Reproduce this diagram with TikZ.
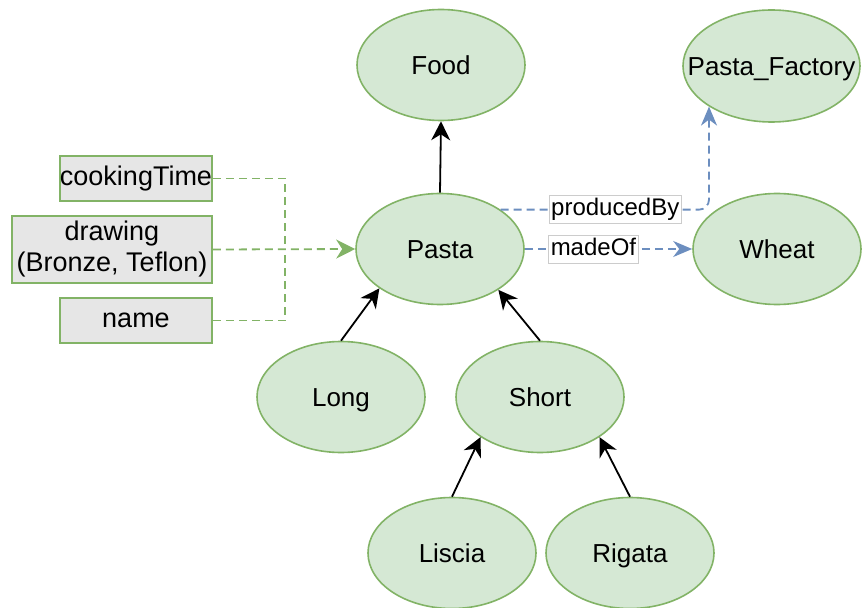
\documentclass[tikz,border=0pt]{standalone}
\usepackage{fontspec}
\setmainfont{Liberation Sans}
\usetikzlibrary{shapes.geometric,arrows.meta}
\definecolor{gfill}{HTML}{D5E8D4}
\definecolor{gline}{HTML}{82B366}
\definecolor{bline}{HTML}{6C8EBF}
\definecolor{boxfill}{HTML}{E6E6E6}
\tikzset{
  cls/.style={ellipse, draw=gline, fill=gfill, line width=1.6bp, minimum width=168bp, minimum height=111bp, inner sep=0pt, text height=18.7bp, text depth=0pt, font=\fontsize{26bp}{30bp}\selectfont},
  attr/.style={rectangle, draw=gline, fill=boxfill, line width=1.6bp, inner sep=0pt, font=\fontsize{27bp}{31bp}\selectfont, align=center},
  isa/.style={line width=1.8bp, -{Stealth[length=19bp, width=19bp, inset=6bp]}},
  gdash/.style={draw=gline, line width=1.8bp, dash pattern=on 8bp off 5bp},
  bdash/.style={draw=bline, line width=1.8bp, dash pattern=on 8bp off 5bp},
  lbl/.style={fill=white, draw=black!20, line width=0.6bp, sharp corners, inner xsep=2bp, inner ysep=3bp, text height=17.3bp, text depth=5bp, font=\fontsize{24bp}{28bp}\selectfont},
}
\begin{document}
\begin{tikzpicture}[x=1bp, y=-1bp]
\useasboundingbox (0,0) rectangle (862,608);
\node[cls] (food) at (441,65) {\makebox[0pt]{Food}};
\node[cls] (pasta) at (440,249) {\makebox[0pt]{Pasta}};
\node[cls, minimum width=177bp, minimum height=112bp] (pf) at (771.5,66) {\makebox[0pt]{Pasta\_Factory}};
\node[cls] (wheat) at (777,249) {\makebox[0pt]{Wheat}};
\node[cls] (long) at (341,397) {\makebox[0pt]{Long}};
\node[cls] (short) at (540,397) {\makebox[0pt]{Short}};
\node[cls] (liscia) at (452,553) {\makebox[0pt]{Liscia}};
\node[cls] (rigata) at (630,553) {\makebox[0pt]{Rigata}};

\node[attr, minimum width=152bp, minimum height=45bp] (ct) at (136,178.5) {\makebox[0pt]{cookingTime}};
\node[attr, minimum width=200bp, minimum height=67bp] (dr) at (112,249.5) {drawing\\(Bronze, Teflon)};
\node[attr, minimum width=152bp, minimum height=45bp] (nm) at (136,320.5) {name};

\coordinate (j) at (285,249);

\draw[isa] (pasta.north) -- (food.south);
\draw[isa] (long.north) -- (pasta.213);
\draw[isa] (short.north) -- (pasta.325);
\draw[isa] (liscia.north) -- (short.214);
\draw[isa] (rigata.north) -- (short.326);

\draw[gdash] (ct.east) -| (j);
\draw[gdash] (nm.east) -| (j);
\draw[gdash, -{Stealth[length=19bp, width=19bp, inset=6bp]}, gline] (dr.east) -- (pasta.west);

\draw[bdash, rounded corners=10bp, -{Stealth[length=19bp, width=16bp, inset=6bp]}] (pasta.33) -| node[lbl, pos=0.275, text=black, solid] {producedBy} (pf.213);
\draw[bdash, -{Stealth[length=19bp, width=16bp, inset=6bp]}] (pasta.east) -- node[lbl, pos=0.41, text=black, solid] {madeOf} (wheat.west);
\end{tikzpicture}
\end{document}
